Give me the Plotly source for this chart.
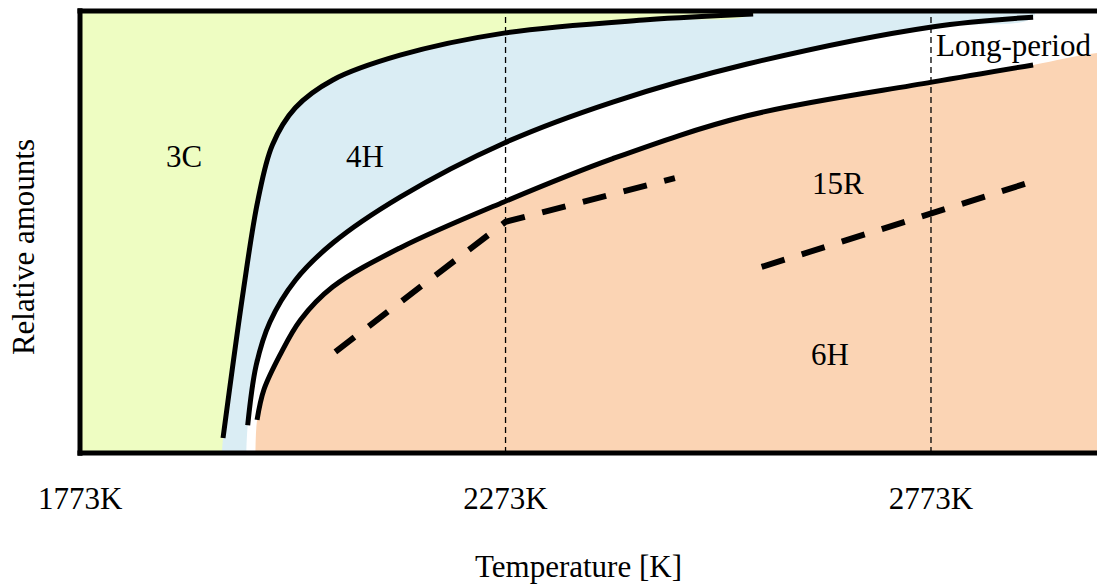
import plotly.graph_objects as go

# ---- data (temperature in K, relative amount in % of the vertical span) ----
A_T = [1941, 1965, 1982, 1999, 2026, 2070, 2149, 2271, 2439, 2564]
A_Y = [3.4, 36.9, 57.2, 69.7, 78.1, 84.4, 90.0, 95.0, 98.0, 99.3]

B_T = [1970, 1980, 1996, 2026, 2070, 2149, 2271, 2399, 2557, 2774, 2893]
B_Y = [6.3, 19.9, 29.6, 39.1, 47.5, 57.9, 70.1, 79.4, 88.0, 96.4, 98.6]

C_T = [1981, 1989, 2008, 2032, 2070, 2149, 2271, 2399, 2557, 2774, 2893]
C_Y = [7.5, 14.3, 22.2, 30.1, 37.6, 46.4, 56.8, 66.6, 76.3, 83.9, 87.8]

BASE_T = {"A": 1939, "B": 1968, "C": 1979}
PEACH_EDGE_T = [2968]
PEACH_EDGE_Y = [90.5]

D1_T = [2073, 2273, 2472]
D1_Y = [22.9, 52.3, 62.2]
D2_T = [2574, 2887]
D2_Y = [42.1, 61.1]

TICK_VALS = [1773, 2273, 2773]
TICK_TEXT = ["1773K", "2273K", "2773K"]
VLINES = [2273, 2773]

LABELS = ["3C", "4H", "15R", "6H", "Long-period"]
LABEL_T = [1895, 2108, 2664, 2654, 2870]
LABEL_Y = [67.0, 67.0, 60.9, 22.2, 92.1]

X_RANGE = [1772.9, 2968.1]

YELLOW = "#EEFDC2"
BLUE = "#DAEDF4"
PEACH = "#FBD4B4"
FONT = "Liberation Serif, Times New Roman, serif"
FS = 31

fig = go.Figure()

XR = 3100  # far right, outside the visible range (clipped)
# 4H (blue) region: right of curve A
fig.add_trace(go.Scatter(
    x=[BASE_T["A"]] + A_T + [A_T[-1] + 20, XR, XR],
    y=[-3] + A_Y + [104, 104, -3],
    fill="toself", fillcolor=BLUE, mode="none", line_shape="spline", hoverinfo="skip"))
# long-period (white) region: right of curve B
fig.add_trace(go.Scatter(
    x=[BASE_T["B"]] + B_T + [B_T[-1] + 5, XR, XR],
    y=[-3] + B_Y + [104, 104, -3],
    fill="toself", fillcolor="white", mode="none", line_shape="spline", hoverinfo="skip"))
# 15R / 6H (peach) region: below curve C
fig.add_trace(go.Scatter(
    x=[BASE_T["C"]] + C_T + PEACH_EDGE_T + [XR, XR],
    y=[-3] + C_Y + PEACH_EDGE_Y + [92, -3],
    fill="toself", fillcolor=PEACH, mode="none", line_shape="spline", hoverinfo="skip"))

for tx, ty in [(A_T, A_Y), (B_T, B_Y), (C_T, C_Y)]:
    fig.add_trace(go.Scatter(x=tx, y=ty, mode="lines",
                             line=dict(color="black", width=5, shape="spline"),
                             hoverinfo="skip"))

for tx, ty in [(D1_T, D1_Y), (D2_T, D2_Y)]:
    fig.add_trace(go.Scatter(x=tx, y=ty, mode="lines",
                             line=dict(color="black", width=6, dash="24px,18px"),
                             hoverinfo="skip"))

shapes = []
for v in VLINES:
    shapes.append(dict(type="line", xref="x", yref="y", x0=v, x1=v, y0=0, y1=100,
                       line=dict(color="black", width=1.3, dash="6px,4px")))
# frame: left, top, bottom
shapes += [
    dict(type="line", xref="paper", yref="paper", x0=0, x1=0, y0=-0.006, y1=1.006,
         line=dict(color="black", width=5)),
    dict(type="line", xref="paper", yref="paper", x0=-0.0025, x1=1, y0=1, y1=1,
         line=dict(color="black", width=5)),
    dict(type="line", xref="paper", yref="paper", x0=-0.0025, x1=1, y0=0, y1=0,
         line=dict(color="black", width=5)),
]

annotations = []
for t, tx, ty in zip(LABELS, LABEL_T, LABEL_Y):
    annotations.append(dict(text=t, x=tx, y=ty, xref="x", yref="y", showarrow=False,
                            xanchor="center", yanchor="middle",
                            font=dict(family=FONT, size=FS, color="black")))
annotations.append(dict(text="Temperature [K]", x=0.4897, y=-0.2557, xref="paper", yref="paper",
                        showarrow=False, xanchor="center", yanchor="middle",
                        font=dict(family=FONT, size=FS, color="black")))
annotations.append(dict(text="Relative amounts", x=-0.056, y=0.466, xref="paper", yref="paper",
                        showarrow=False, textangle=-90, xanchor="center", yanchor="middle",
                        font=dict(family=FONT, size=FS, color="black")))

fig.update_layout(
    width=1097, height=585,
    margin=dict(l=80, r=0, t=11, b=132, autoexpand=False),
    plot_bgcolor=YELLOW, paper_bgcolor="white",
    showlegend=False,
    shapes=shapes, annotations=annotations,
    xaxis=dict(range=X_RANGE, tickvals=TICK_VALS, ticktext=TICK_TEXT,
               showgrid=False, zeroline=False, showline=False, ticks="",
               ticklabelstandoff=24,
               tickfont=dict(family=FONT, size=FS, color="black")),
    yaxis=dict(range=[0, 100], showgrid=False, zeroline=False, showline=False,
               showticklabels=False, ticks=""),
)

fig.write_html("out.html")
